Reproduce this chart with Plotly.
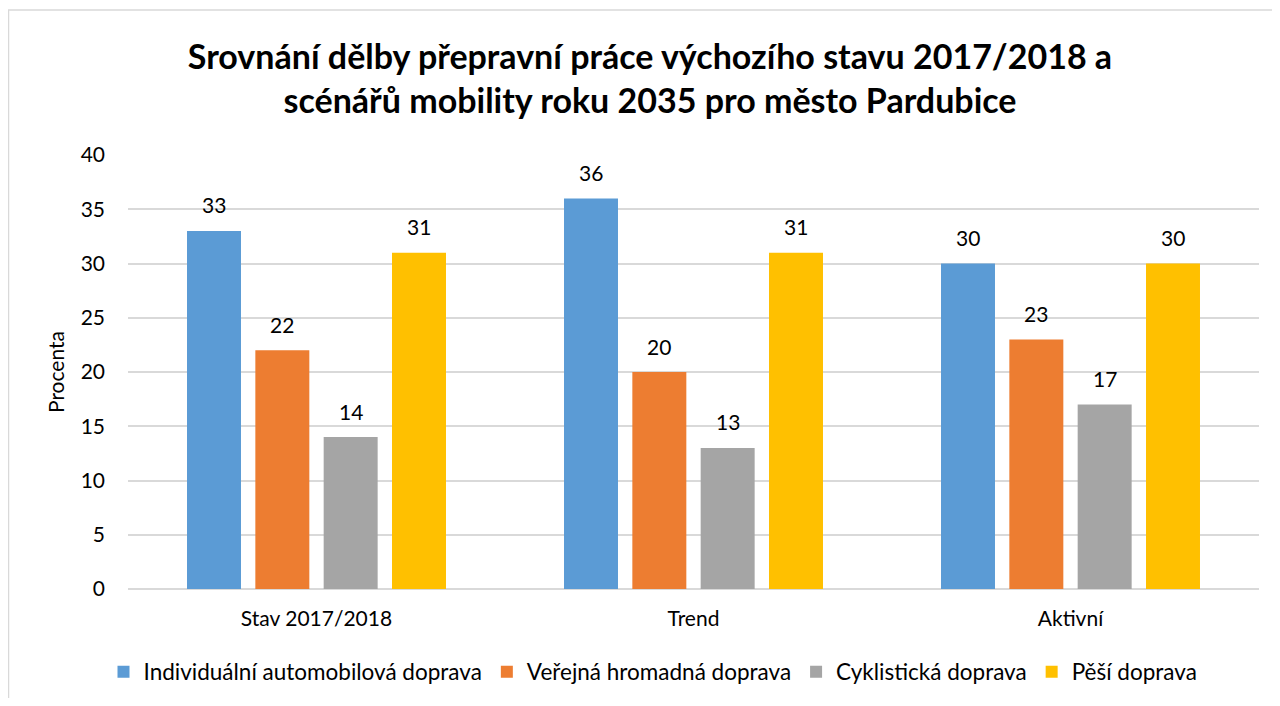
import plotly.graph_objects as go

categories = ["Stav 2017/2018", "Trend", "Aktivní"]
series_names = ["Individuální automobilová doprava", "Veřejná hromadná doprava",
                "Cyklistická doprava", "Pěší doprava"]
individualni = [33, 36, 30]
verejna = [22, 20, 23]
cyklisticka = [14, 13, 17]
pesi = [31, 31, 30]
colors = ["#5B9BD5", "#ED7D31", "#A5A5A5", "#FFC000"]
y_ticks = [0, 5, 10, 15, 20, 25, 30, 35, 40]

FONT = "Lato"
OFF = 8  # page body margin
W, H = 1264, 690
L, T = 128 - OFF, 155 - OFF
R = W - (1259 - OFF)
B = H - (589 - OFF)
pw, ph = W - L - R, H - T - B
BARGAP, GROUPGAP = 0.275, 0.21


def px_x(sx):
    return (sx - OFF - L) / pw


def px_y(sy):
    return (H - B - (sy - OFF)) / ph


fig = go.Figure()
all_series = [individualni, verejna, cyklisticka, pesi]
n = len(all_series)
slot = (1 - BARGAP) / n
for k, (name, vals, col) in enumerate(zip(series_names, all_series, colors)):
    fig.add_trace(go.Bar(
        x=categories, y=vals, name=name, marker=dict(color=col, line=dict(width=0)),
        hoverinfo="x+y+name",
    ))
    for i, v in enumerate(vals):
        fig.add_annotation(
            x=i + (k - (n - 1) / 2) * slot, y=v, xref="x", yref="y",
            text=str(v), showarrow=False, yanchor="middle", yshift=26,
            font=dict(family=FONT, size=21, color="#000000"),
        )

fig.update_layout(
    width=W, height=H,
    margin=dict(l=L, r=R, t=T, b=B, autoexpand=False),
    paper_bgcolor="white", plot_bgcolor="white",
    barmode="group", bargap=BARGAP, bargroupgap=GROUPGAP,
    font=dict(family=FONT, size=21, color="#000000"),
    title=dict(
        text="<b>Srovnání dělby přepravní práce výchozího stavu 2017/2018 a<br>scénářů mobility roku 2035 pro město Pardubice</b>",
        x=(650 - OFF) / W, xanchor="center", xref="container",
        y=1 - (69 - OFF) / H, yanchor="middle", yref="container",
        font=dict(family=FONT, size=34, color="#000000"),
    ),
    xaxis=dict(showgrid=False, showline=False, ticks="", tickfont=dict(size=21),
               ticklabelstandoff=15, automargin=False),
    yaxis=dict(range=[0, 40], tickvals=y_ticks, showgrid=True, gridcolor="#D9D9D9",
               gridwidth=1.5, zeroline=True, zerolinecolor="#D9D9D9", zerolinewidth=1.5,
               showline=False, ticks="", tickfont=dict(size=21), ticklabelstandoff=22,
               automargin=False,
               title=dict(text="Procenta", font=dict(size=21), standoff=10)),
    legend=dict(orientation="h", x=px_x(653), xanchor="center", y=px_y(672), yanchor="middle",
                font=dict(size=22.5), traceorder="normal", itemclick=False),
    shapes=[dict(type="rect", xref="paper", yref="paper",
                 x0=px_x(8.5), x1=px_x(1300), y0=px_y(740), y1=px_y(10),
                 line=dict(color="#D9D9D9", width=1.5), fillcolor="rgba(0,0,0,0)", layer="below")],
)

fig.write_html("out.html")
